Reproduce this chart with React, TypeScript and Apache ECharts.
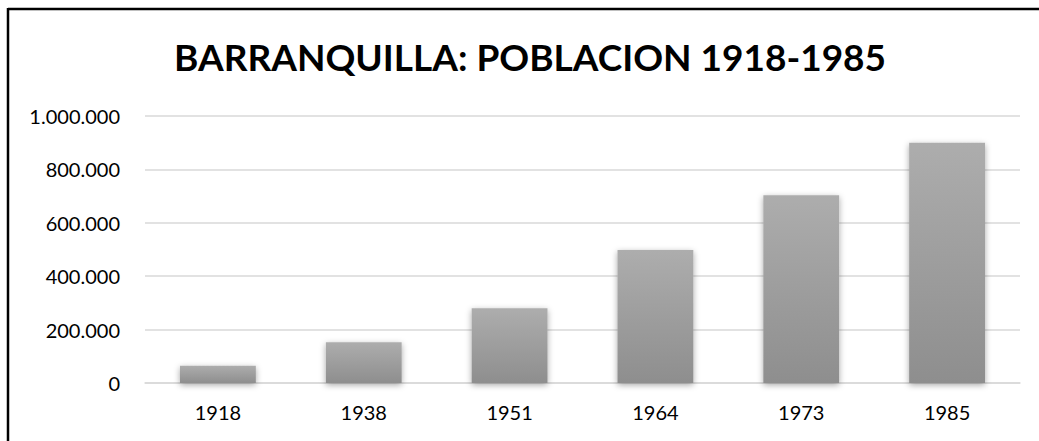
import React, { useEffect, useRef } from "react";
import * as echarts from "echarts";

const title = "BARRANQUILLA: POBLACION 1918-1985";
const categories = ["1918", "1938", "1951", "1964", "1973", "1985"];
const population = [64543, 152348, 279627, 498301, 703488, 899781];
const yTicks = { min: 0, max: 1000000, interval: 200000 };

const fmt = (v: number) => String(v).replace(/\B(?=(\d{3})+(?!\d))/g, ".");

export default function App() {
  const ref = useRef<HTMLDivElement>(null);
  useEffect(() => {
    document.body.style.margin = "0";
    const chart = echarts.init(ref.current!, null, { renderer: "svg" });
    chart.setOption({
      animation: false,
      backgroundColor: "#ffffff",
      title: {
        text: title,
        left: 169,
        top: 33,
        textStyle: {
          fontFamily: "Lato",
          fontWeight: "bold",
          fontSize: 37,
          color: "#000000",
        },
      },
      grid: { left: 145, right: 19, top: 116, bottom: 58, containLabel: false },
      xAxis: {
        type: "category",
        data: categories,
        axisLine: { show: true, lineStyle: { color: "#d9d9d9", width: 1.5 } },
        axisTick: { show: false },
        axisLabel: {
          margin: 19,
          fontFamily: "Lato",
          fontSize: 20,
          color: "#000000",
        },
      },
      yAxis: {
        type: "value",
        min: yTicks.min,
        max: yTicks.max,
        interval: yTicks.interval,
        axisLine: { show: false },
        axisTick: { show: false },
        splitLine: { lineStyle: { color: "#d9d9d9", width: 1.5 } },
        axisLabel: {
          margin: 25,
          fontFamily: "Lato",
          fontSize: 20,
          color: "#000000",
          formatter: (v: number) => fmt(v),
        },
      },
      series: [
        {
          type: "bar",
          data: population,
          barWidth: "52%",
          itemStyle: {
            color: new echarts.graphic.LinearGradient(0, 0, 0, 1, [
              { offset: 0, color: "#adadad" },
              { offset: 1, color: "#8e8e8e" },
            ]),
            shadowBlur: 6,
            shadowColor: "rgba(0,0,0,0.35)",
            shadowOffsetY: 2,
          },
        },
      ],
      graphic: [
        {
          type: "line",
          shape: { x1: 8, y1: 9, x2: 1039, y2: 9 },
          style: { stroke: "#000000", lineWidth: 2.5 },
        },
        {
          type: "line",
          shape: { x1: 8, y1: 8, x2: 8, y2: 441 },
          style: { stroke: "#000000", lineWidth: 2.5 },
        },
      ],
    });
    return () => chart.dispose();
  }, []);
  return <div ref={ref} style={{ width: 1039, height: 441 }} />;
}
